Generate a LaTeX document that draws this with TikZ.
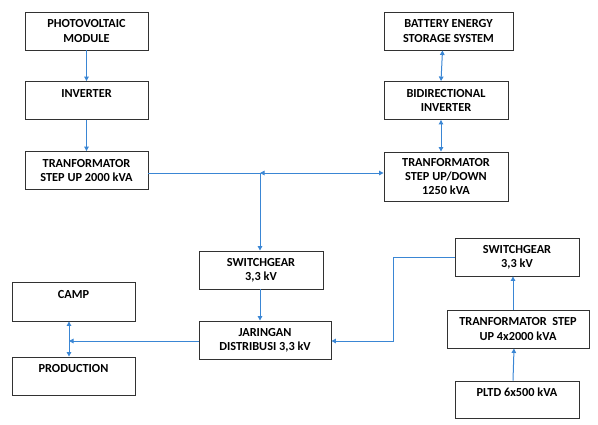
\documentclass[tikz,border=0pt]{standalone}
\usepackage{fontspec}
\setmainfont{Carlito}
\usetikzlibrary{arrows.meta}
\definecolor{wire}{RGB}{58,134,212}
\definecolor{edge}{RGB}{50,50,50}

\begin{document}
\begin{tikzpicture}[x=1pt,y=-1pt,
  box/.style={draw=edge, line width=0.9pt, minimum height=38pt, align=center, inner sep=0pt,
    font=\fontsize{12.3}{14.2}\selectfont\bfseries},
  flow/.style={draw=wire, line width=1pt, -{Triangle[length=4.5pt,width=4.5pt]}},
  both/.style={draw=wire, line width=1pt, {Triangle[length=4.5pt,width=4.5pt]}-{Triangle[length=4.5pt,width=4.5pt]}}]
\useasboundingbox (0,0) rectangle (598,424);

% pv branch
\node [box, minimum width=123pt] (pv) at (86.5,31) {PHOTOVOLTAIC\\MODULE};
\node [box, minimum width=123pt] (inv) at (86.5,100.5) {INVERTER\\~};
\node [box, minimum width=123pt] (tr2000) at (86.5,170.5) {TRANFORMATOR\\STEP UP 2000 kVA};

% battery branch
\node [box, minimum width=129pt] (bess) at (448.5,31) {BATTERY ENERGY\\STORAGE SYSTEM};
\node [box, minimum width=124pt] (bidi) at (446,100.5) {BIDIRECTIONAL\\INVERTER};
\node [box, minimum width=124pt, minimum height=49pt] (trud) at (446,176.5) {TRANFORMATOR\\STEP UP/DOWN\\1250 kVA};

% distribution
\node [box, minimum width=124pt] (sg) at (261,270) {SWITCHGEAR\\3,3 kV};
\node [box, minimum width=132pt] (jd) at (265,340) {JARINGAN\\DISTRIBUSI 3,3 kV};
\node [box, minimum width=123pt, minimum height=39pt] (camp) at (73.5,301.5) {CAMP\\~};
\node [box, minimum width=123pt] (prod) at (73.5,376) {PRODUCTION\\~};

% diesel branch
\node [box, minimum width=124pt] (sgd) at (517,257) {SWITCHGEAR\\3,3 kV};
\node [box, minimum width=142pt] (tr4) at (518,329) {TRANFORMATOR~~STEP\\UP 4x2000 kVA};
\node [box, minimum width=124pt, minimum height=37pt] (pltd) at (517,399.5) {PLTD 6x500 kVA\\~};

\coordinate (j) at (260,173);
\coordinate (cp) at (69,341);
\coordinate (bend) at (393,257);

\draw [flow] (pv) -- (inv); \draw [flow] (inv) -- (tr2000);
\draw [both] ([xshift=-6pt]bess.south) -- ([xshift=-5pt]bidi.north);
\draw [both] ([xshift=-5pt]bidi.south) -- ([xshift=-5pt]trud.north);
\draw [draw=wire, line width=1pt] (tr2000.east |- j) -- (j);
\draw [both] (j) -- (trud.west |- j);
\draw [flow] (j) -- (sg.north -| j); \draw [flow] (sg.south -| j) -- (jd.north -| j);
\draw [flow] (jd.west |- cp) -- (cp);
\draw [both] (camp.south -| cp) -- (prod.north -| cp);
\draw [flow] ([xshift=-4pt]pltd.north) -- ([xshift=-4pt]tr4.north |- tr4.south);
\draw [flow] ([xshift=-5pt]tr4.north) -- ([xshift=-4pt]sgd.south);
\draw [flow] (sgd.west) -- (bend) -- (bend |- cp) -- (jd.east |- cp);
\end{tikzpicture}
\end{document}
